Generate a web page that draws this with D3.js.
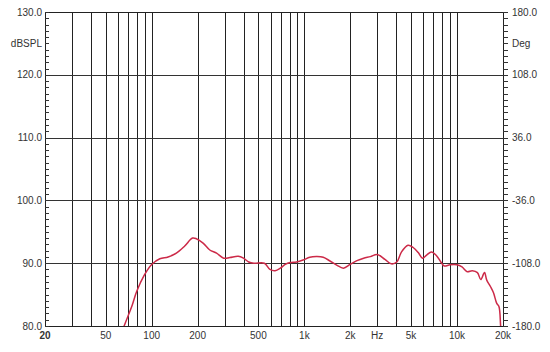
<!DOCTYPE html>
<html>
<head>
<meta charset="utf-8">
<script src="https://cdn.jsdelivr.net/npm/d3@7"></script>
<style>
  body { margin: 0; background: #fff; }
  text { font-family: "Liberation Sans", Arial, sans-serif; font-size: 10px; fill: #333; }
</style>
</head>
<body>
<div id="chart"></div>
<script>
// measured response, frequency (Hz) / level (dB SPL)
var freq = [65, 70, 74, 79.7, 89.4, 100, 113, 128, 145, 164, 185, 196, 217, 240, 266, 296, 325, 369, 399, 432, 467,
  547, 595, 643, 696, 749, 806, 888, 980, 1085, 1200, 1329, 1471, 1628, 1802, 1995, 2209, 2445, 2707, 3000,
  3370, 3710, 4030, 4330, 4780, 5160, 5570, 5940, 6320, 6800, 7340, 7830, 8240, 9000, 9970, 10780, 11650,
  12580, 13600, 14300, 15130, 15650, 16580, 17330, 18200, 18810, 19300, 19600];
var spl = [79.6, 81.6, 83.1, 85.5, 88.1, 89.8, 90.7, 91.0, 91.6, 92.7, 94.0, 93.9, 93.2, 92.1, 91.6, 90.8, 90.9, 91.1, 90.8, 90.2, 90.0,
  90.0, 89.0, 88.8, 89.2, 89.8, 90.1, 90.2, 90.5, 90.95, 91.05, 90.95, 90.35, 89.7, 89.2, 89.8, 90.4, 90.8, 91.05, 91.4,
  90.6, 89.9, 90.2, 91.8, 92.85, 92.5, 91.7, 90.8, 91.3, 91.8, 91.2, 90.2, 89.55, 89.75, 89.75, 89.4, 88.65,
  88.8, 88.5, 87.4, 88.5, 87.3, 86.25, 85.3, 83.6, 83.1, 80, 78];

// axis ticks
var gridFreqs = [30, 40, 50, 60, 70, 80, 90, 100, 200, 300, 400, 500, 600, 700, 800, 900, 1000,
  2000, 3000, 4000, 5000, 6000, 7000, 8000, 9000, 10000];
var xTickVals = [20, 50, 100, 200, 500, 1000, 2000, 3000, 5000, 10000, 20000];
var xTickLabels = ["20", "50", "100", "200", "500", "1k", "2k", "Hz", "5k", "10k", "20k"];
var yTickVals = [80, 90, 100, 110, 120, 130];
var degTickVals = [-180, -108, -36, 36, 108, 180];

(function(){
  var W = 550, H = 352;
  var pL = 45, pR = 503, pT = 12, pB = 326;

  var svg = d3.select("#chart").append("svg")
    .attr("width", W).attr("height", H);

  var x = d3.scaleLog().domain([20, 20000]).range([pL, pR]);
  var y = d3.scaleLinear().domain([80, 130]).range([pB, pT]);
  var yDeg = d3.scaleLinear().domain([-180, 180]).range([pB, pT]);

  var px = function(v){ return Math.round(v) + 0.5; };

  // vertical grid
  svg.append("g").selectAll("line")
    .data(gridFreqs)
    .enter().append("line")
    .attr("x1", function(d){ return px(x(d)); })
    .attr("x2", function(d){ return px(x(d)); })
    .attr("y1", pT).attr("y2", pB)
    .attr("stroke", "#222").attr("stroke-width", 1)
    .attr("shape-rendering", "crispEdges");

  // horizontal grid
  svg.append("g").selectAll("line")
    .data([90, 100, 110, 120])
    .enter().append("line")
    .attr("x1", pL).attr("x2", pR)
    .attr("y1", function(d){ return px(y(d)); })
    .attr("y2", function(d){ return px(y(d)); })
    .attr("stroke", "#333").attr("stroke-width", 1)
    .attr("shape-rendering", "crispEdges");

  // frame
  svg.append("rect")
    .attr("x", px(pL)).attr("y", px(pT))
    .attr("width", Math.round(pR - pL)).attr("height", Math.round(pB - pT))
    .attr("fill", "none").attr("stroke", "#222")
    .attr("shape-rendering", "crispEdges");

  // minor ticks, 1 dB
  var minor = d3.range(80, 131, 1);
  svg.append("g").selectAll("line")
    .data(minor)
    .enter().append("line")
    .attr("x1", pL).attr("x2", pL + 4)
    .attr("y1", function(d){ return px(y(d)); })
    .attr("y2", function(d){ return px(y(d)); })
    .attr("stroke", "#333").attr("shape-rendering", "crispEdges");
  svg.append("g").selectAll("line")
    .data(minor)
    .enter().append("line")
    .attr("x1", pR).attr("x2", pR + 5)
    .attr("y1", function(d){ return px(y(d)); })
    .attr("y2", function(d){ return px(y(d)); })
    .attr("stroke", "#333").attr("shape-rendering", "crispEdges");

  // left labels
  svg.append("g").selectAll("text")
    .data(yTickVals)
    .enter().append("text")
    .attr("x", pL - 3)
    .attr("y", function(d){ return y(d) + 3.5; })
    .attr("text-anchor", "end")
    .text(function(d){ return d3.format(".1f")(d); });
  svg.append("text").attr("x", pL - 3).attr("y", 47).attr("text-anchor", "end").text("dBSPL");

  // right labels
  svg.append("g").selectAll("text")
    .data(degTickVals)
    .enter().append("text")
    .attr("x", pR + 9)
    .attr("y", function(d){ return yDeg(d) + 3.5; })
    .text(function(d){ return (d < 0 ? "-" : "") + d3.format(".1f")(Math.abs(d)); });
  svg.append("text").attr("x", pR + 9).attr("y", 47).text("Deg");

  // bottom labels
  svg.append("g").selectAll("text")
    .data(xTickVals)
    .enter().append("text")
    .attr("x", function(d){ return x(d); })
    .attr("y", pB + 13)
    .attr("text-anchor", "middle")
    .style("font-weight", function(d){ return d === 20 ? "bold" : null; })
    .text(function(d, i){ return xTickLabels[i]; });

  // curve
  svg.append("clipPath").attr("id", "plot")
    .append("rect").attr("x", pL).attr("y", pT)
    .attr("width", pR - pL).attr("height", pB - pT);

  var line = d3.line()
    .x(function(d){ return x(d[0]); })
    .y(function(d){ return y(d[1]); })
    .curve(d3.curveCatmullRom);

  svg.append("path")
    .datum(d3.zip(freq, spl))
    .attr("clip-path", "url(#plot)")
    .attr("fill", "none")
    .attr("stroke", "#cc2a48")
    .attr("stroke-width", 1.5)
    .attr("d", line);
})();
</script>
</body>
</html>
